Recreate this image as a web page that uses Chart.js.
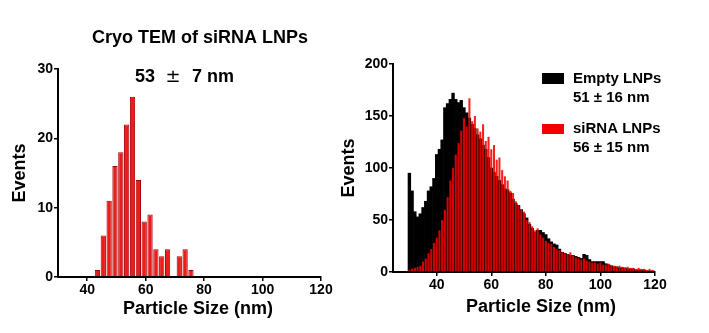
<!DOCTYPE html>
<html>
<head>
<meta charset="utf-8">
<script src="https://cdn.jsdelivr.net/npm/chart.js@4"></script>
<style>
  html, body { margin: 0; padding: 0; background: #fff; }
  #wrap { position: relative; width: 709px; height: 333px; overflow: hidden; }
  .box { position: absolute; top: 0; height: 333px; }
  #leftBox { left: 0; width: 340px; }
  #rightBox { left: 340px; width: 369px; }
</style>
</head>
<body>
<div id="wrap">
  <div class="box" id="leftBox"><canvas id="temChart"></canvas></div>
  <div class="box" id="rightBox"><canvas id="dlsChart"></canvas></div>
</div>
<script>
// Cryo TEM histogram (2 nm bins)
const temSizes = [43.5, 45.5, 47.5, 49.5, 51.5, 53.5, 55.5, 57.5, 59.5, 61.5, 63.5, 65.5, 67.5, 69.5, 71.5, 73.5, 75.5];
const temCounts = [1, 6, 11, 16, 18, 22, 26, 14, 8, 9, 4, 3, 4, 0, 3, 4, 1];

// size distribution (1 nm bins, 30..120 nm)
const dlsSizes = [];
for (let s = 30; s <= 120; s++) dlsSizes.push(s);
const emptyCounts = [
  95, 78, 58, 53, 56, 62, 68, 78, 82, 90,
  113, 118, 127, 158, 162, 166, 172, 166, 163, 165,
  158, 153, 148, 142, 138, 132, 128, 122, 118, 110,
  100, 96, 92, 88, 84, 80, 79, 76, 70, 66,
  64, 60, 56, 52, 46, 42, 38, 40, 40, 38,
  36, 32, 29, 27, 26, 22, 19, 18, 17, 16,
  16, 15, 14, 13, 17, 16, 12, 10, 10, 10,
  10, 10, 8, 7, 6, 5, 5, 4, 4, 4,
  3, 3, 3, 2, 2, 2, 2, 1, 1, 1, 1
];
const sirnaCounts = [
  2, 3, 4, 5, 6, 10, 13, 18, 22, 28,
  33, 40, 50, 60, 72, 88, 100, 113, 124, 136,
  148, 140, 167, 145, 150, 138, 135, 142, 126, 130,
  118, 122, 108, 110, 98, 92, 88, 78, 76, 68,
  64, 60, 58, 50, 48, 44, 40, 42, 36, 33,
  30, 28, 27, 24, 22, 21, 19, 18, 17, 19,
  16, 14, 13, 12, 13, 11, 10, 9, 9, 8,
  9, 7, 7, 8, 6, 6, 5, 6, 5, 4,
  5, 4, 4, 3, 4, 3, 3, 2, 3, 2, 1
];

const xTicks = [40, 60, 80, 100, 120];
const temYTicks = [0, 10, 20, 30];
const dlsYTicks = [0, 50, 100, 150, 200];

const FONT = '"Liberation Sans", Arial, sans-serif';

// draws titles, axis names and the legend at fixed spots
const textPlugin = {
  id: 'texts',
  afterDraw(chart, args, opts) {
    const ctx = chart.ctx;
    ctx.save();
    (opts.boxes || []).forEach(b => {
      ctx.fillStyle = b.color;
      ctx.fillRect(b.x, b.y, b.w, b.h);
    });
    (opts.items || []).forEach(t => {
      ctx.save();
      ctx.fillStyle = '#000';
      ctx.font = (t.weight || 'bold') + ' ' + t.size + 'px ' + (t.family || FONT);
      ctx.textAlign = t.align || 'center';
      ctx.textBaseline = t.baseline || 'alphabetic';
      ctx.translate(t.x, t.y);
      if (t.rotate) ctx.rotate(t.rotate);
      ctx.fillText(t.text, 0, 0);
      ctx.restore();
    });
    ctx.restore();
  }
};

function axisStyle(ticksList, extra) {
  return Object.assign({
    type: 'linear',
    offset: false,
    afterBuildTicks: axis => { axis.ticks = ticksList.map(v => ({ value: v })); },
    grid: { display: true, drawOnChartArea: false, drawTicks: true, tickLength: 4, color: '#000', lineWidth: 1.5, offset: false },
    border: { display: true, color: '#000', width: 2 },
    ticks: { color: '#000', font: { family: FONT, size: 14, weight: 'bold' }, padding: 1, maxRotation: 0, autoSkip: false }
  }, extra);
}

new Chart(document.getElementById('temChart'), {
  type: 'bar',
  data: {
    datasets: [{
      label: 'siRNA LNPs',
      data: temSizes.map((s, i) => ({ x: s, y: temCounts[i] })),
      backgroundColor: '#ea1c1c',
      borderColor: '#a30000',
      borderWidth: 1,
      barPercentage: 0.9,
      categoryPercentage: 1
    }]
  },
  options: {
    responsive: true,
    maintainAspectRatio: false,
    animation: false,
    layout: { padding: { left: 0, right: 19, top: 69, bottom: 0 } },
    plugins: {
      legend: { display: false },
      tooltip: { enabled: false },
      texts: {
        items: [
          { text: 'Cryo TEM of siRNA LNPs', x: 200, y: 43, size: 18 },
          { text: '53', x: 135, y: 82, size: 18, align: 'left' },
          { text: '±', x: 173, y: 82, size: 18, weight: 'normal', family: '"DejaVu Sans", sans-serif' },
          { text: '7 nm', x: 192, y: 82, size: 18, align: 'left' },
          { text: 'Events', x: 20, y: 173, size: 18, baseline: 'middle', rotate: -Math.PI / 2 },
          { text: 'Particle Size (nm)', x: 198, y: 314, size: 18 }
        ]
      }
    },
    scales: {
      x: axisStyle(xTicks, { min: 30, max: 120, afterFit: s => { s.height = 56; } }),
      y: axisStyle(temYTicks, { min: 0, max: 30, afterFit: s => { s.width = 58; } })
    }
  },
  plugins: [textPlugin]
});

new Chart(document.getElementById('dlsChart'), {
  type: 'bar',
  data: {
    datasets: [{
      label: 'siRNA LNPs',
      data: dlsSizes.map((s, i) => ({ x: s, y: sirnaCounts[i] })),
      backgroundColor: 'rgba(242, 0, 0, 0.88)',
      borderWidth: 0,
      barPercentage: 0.75,
      categoryPercentage: 1,
      grouped: false,
      order: 0
    }, {
      label: 'Empty LNPs',
      data: dlsSizes.map((s, i) => ({ x: s, y: emptyCounts[i] })),
      backgroundColor: '#000',
      borderWidth: 0,
      barPercentage: 1,
      categoryPercentage: 1,
      grouped: false,
      order: 1
    }]
  },
  options: {
    responsive: true,
    maintainAspectRatio: false,
    animation: false,
    layout: { padding: { left: 0, right: 54, top: 64, bottom: 0 } },
    plugins: {
      legend: { display: false },
      tooltip: { enabled: false },
      texts: {
        boxes: [
          { x: 202, y: 73, w: 22, h: 11, color: '#000' },
          { x: 202, y: 124, w: 22, h: 10, color: '#f00000' }
        ],
        items: [
          { text: 'Empty LNPs', x: 233, y: 83, size: 15, align: 'left' },
          { text: '51 ± 16 nm', x: 233, y: 102, size: 15, align: 'left' },
          { text: 'siRNA LNPs', x: 233, y: 133, size: 15, align: 'left' },
          { text: '56 ± 15 nm', x: 233, y: 152, size: 15, align: 'left' },
          { text: 'Events', x: 9, y: 168, size: 18, baseline: 'middle', rotate: -Math.PI / 2 },
          { text: 'Particle Size (nm)', x: 201, y: 312, size: 18 }
        ]
      }
    },
    scales: {
      x: axisStyle(xTicks, { min: 24, max: 120, afterFit: s => { s.height = 61; } }),
      y: axisStyle(dlsYTicks, { min: 0, max: 200, afterFit: s => { s.width = 53; } })
    }
  },
  plugins: [textPlugin]
});
</script>
</body>
</html>
